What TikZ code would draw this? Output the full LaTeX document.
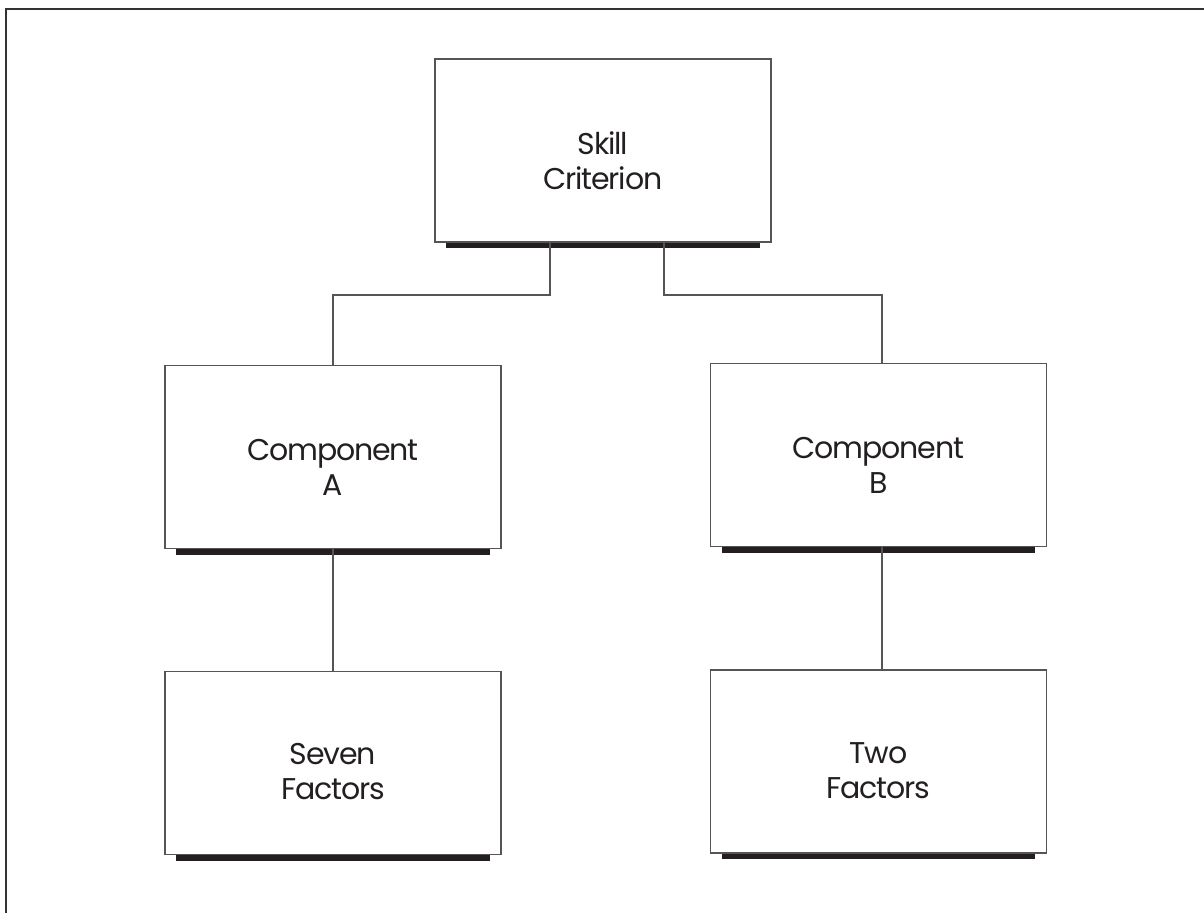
\documentclass[tikz,border=0pt]{standalone}
\usepackage{fontspec}
\setmainfont{Poppins}[LetterSpace=-4]
\usepackage{tikz}
\usetikzlibrary{positioning,calc}
\definecolor{barblack}{HTML}{231F20}
\definecolor{linegray}{HTML}{555555}

\tikzset{
  box/.style={draw=linegray, line width=1.2pt, minimum width=336pt, minimum height=183pt, inner sep=0pt},
  boxtext/.style={align=center, font=\fontsize{30}{35}\selectfont, text=barblack},
  link/.style={draw=linegray, line width=1.1pt},
}

\newcommand{\shadowbar}[1]{%
  \fill[barblack] ([xshift=12pt]#1.south west) rectangle ([xshift=-12pt,yshift=-5.5pt]#1.south east);}

\begin{document}
\begin{tikzpicture}[x=1pt, y=1pt]
            \useasboundingbox (0,0) rectangle (1204,913);
            % --- frame (top and left only) ---
            \draw[line width=1.6pt, black!80] (1204,904) -- (6,904) -- (6,0);

            % --- top level ---
            \node[box] (skill) at (603,762.5) {};
            \node[boxtext] (skilltxt) at ([yshift=-10pt]skill.center) {Skill\\Criterion};
            \shadowbar{skill}

            % --- components ---
            \node[box] (compA) at (333,456) {};
            \node[boxtext] (compAtxt) at ([yshift=-10pt]compA.center) {Component\\A};
            \shadowbar{compA}

            \node[box] (compB) at (878.5,458) {};
            \node[boxtext] (compBtxt) at ([yshift=-10pt]compB.center) {Component\\B};
            \shadowbar{compB}

            % --- factors ---
            \node[box] (seven) at (333,150) {};
            \node[boxtext] (seventxt) at ([yshift=-9pt]seven.center) {Seven\\Factors};
            \shadowbar{seven}

            \node[box] (two) at (878.5,151.5) {};
            \node[boxtext] (twotxt) at ([yshift=-9pt]two.center) {Two\\Factors};
            \shadowbar{two}

            % --- connectors ---
            \coordinate (splitL) at (550,618);
            \coordinate (splitR) at (664,618);
            \draw[link] (skill.south -| splitL) -- (splitL) -| (compA.north);
            \draw[link] (skill.south -| splitR) -- (splitR) -| ([xshift=3.5pt]compB.north);
            \draw[link] (compA.south) -- (seven.north);
            \draw[link] ([xshift=3.5pt]compB.south) -- ([xshift=3.5pt]two.north);
\end{tikzpicture}
\end{document}
